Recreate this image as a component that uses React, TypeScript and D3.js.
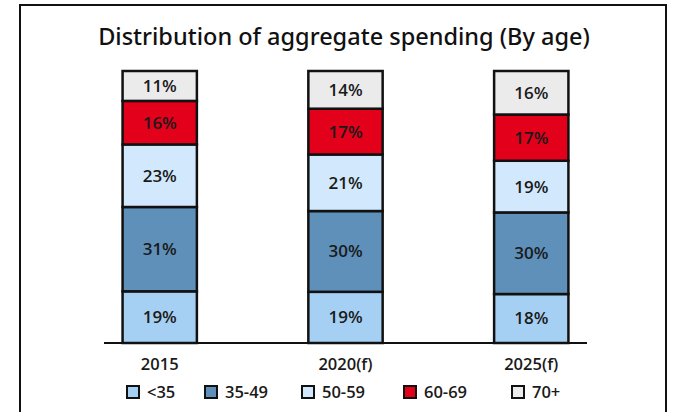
import { useEffect, useRef } from 'react';
import * as d3 from 'd3';

// datos
const years = ['2015', '2020(f)', '2025(f)'];
const groups = ['<35', '35-49', '50-59', '60-69', '70+'];
const under35 = [19, 19, 18];
const age35to49 = [31, 30, 30];
const age50to59 = [23, 21, 19];
const age60to69 = [16, 17, 17];
const age70plus = [11, 14, 16];
const groupColors = ['#a6d0f3', '#5e90ba', '#d2e9fd', '#e2001a', '#ebebeb'];

const W = 674;
const H = 412;
const FONT = '"Open Sans", "Noto Sans", sans-serif';
// posiciones de la leyenda (layout)
const legendX = [127, 205, 302, 404, 512];

const App = () => {
  const svgRef = useRef<SVGSVGElement>(null);

  useEffect(() => {
    if (!svgRef.current) return;
    const svg = d3.select(svgRef.current);
    svg.selectAll('*').remove();

    const series = [under35, age35to49, age50to59, age60to69, age70plus];
    const rows = years.map((y, i) => {
      const r: any = { year: y };
      groups.forEach((g, k) => (r[g] = series[k][i]));
      return r;
    });

    const stack = d3.stack<any>().keys(groups).offset(d3.stackOffsetExpand);
    const layers = stack(rows);

    const x = d3.scaleBand().domain(years).range([104, 587]).paddingInner(0.6).paddingOuter(0.1);
    const y = d3.scaleLinear().domain([0, 1]).range([343, 71]);
    const color = d3.scaleOrdinal<string>().domain(groups).range(groupColors);

    // marco exterior
    svg.append('rect')
      .attr('x', 20).attr('y', 5)
      .attr('width', 646).attr('height', 430)
      .attr('fill', 'none').attr('stroke', '#111').attr('stroke-width', 2);

    svg.append('text')
      .attr('x', 344).attr('y', 45)
      .attr('text-anchor', 'middle')
      .attr('font-family', '"Noto Sans", "Open Sans", sans-serif')
      .attr('font-size', 23.5)
      .attr('font-weight', 500)
      .attr('fill', '#111')
      .text('Distribution of aggregate spending (By age)');

    // segmentos apilados
    const layerG = svg.selectAll('g.layer').data(layers).enter().append('g')
      .attr('class', 'layer')
      .attr('fill', d => color(d.key));

    layerG.selectAll('rect').data(d => d.map(p => ({ p, key: d.key }))).enter().append('rect')
      .attr('x', d => x(d.p.data.year)!)
      .attr('y', d => y(d.p[1]))
      .attr('width', x.bandwidth())
      .attr('height', d => y(d.p[0]) - y(d.p[1]))
      .attr('stroke', '#111')
      .attr('stroke-width', 2.5);

    layerG.selectAll('text').data(d => d.map(p => ({ p, key: d.key }))).enter().append('text')
      .attr('x', d => x(d.p.data.year)! + x.bandwidth() / 2)
      .attr('y', d => (y(d.p[0]) + y(d.p[1])) / 2)
      .attr('dy', '0.35em')
      .attr('text-anchor', 'middle')
      .attr('font-family', FONT)
      .attr('font-size', 17)
      .attr('font-weight', 600)
      .attr('fill', '#1a1a1a')
      .text(d => `${d.p.data[d.key]}%`);

    // línea base
    svg.append('line')
      .attr('x1', 104).attr('x2', 587)
      .attr('y1', y(0)).attr('y2', y(0))
      .attr('stroke', '#111').attr('stroke-width', 2);

    svg.selectAll('text.cat').data(years).enter().append('text')
      .attr('class', 'cat')
      .attr('x', d => x(d)! + x.bandwidth() / 2)
      .attr('y', 370)
      .attr('text-anchor', 'middle')
      .attr('font-family', FONT)
      .attr('font-size', 16.5)
      .attr('font-weight', 600)
      .attr('fill', '#1a1a1a')
      .text(d => d);

    // leyenda
    const legend = svg.selectAll('g.leg').data(groups).enter().append('g')
      .attr('class', 'leg')
      .attr('transform', (_, i) => `translate(${legendX[i]},392)`);
    legend.append('rect')
      .attr('x', 0).attr('y', -6)
      .attr('width', 12).attr('height', 12)
      .attr('fill', d => color(d))
      .attr('stroke', '#111').attr('stroke-width', 2);
    legend.append('text')
      .attr('x', 20).attr('y', 0).attr('dy', '0.35em')
      .attr('font-family', FONT)
      .attr('font-size', 16.5)
      .attr('font-weight', 600)
      .attr('fill', '#1a1a1a')
      .text(d => d);
  }, []);

  return (
    <svg
      ref={svgRef}
      width={W}
      height={H}
      style={{ position: 'absolute', left: 0, top: 0, background: '#fff', display: 'block' }}
    />
  );
};

export default App;
